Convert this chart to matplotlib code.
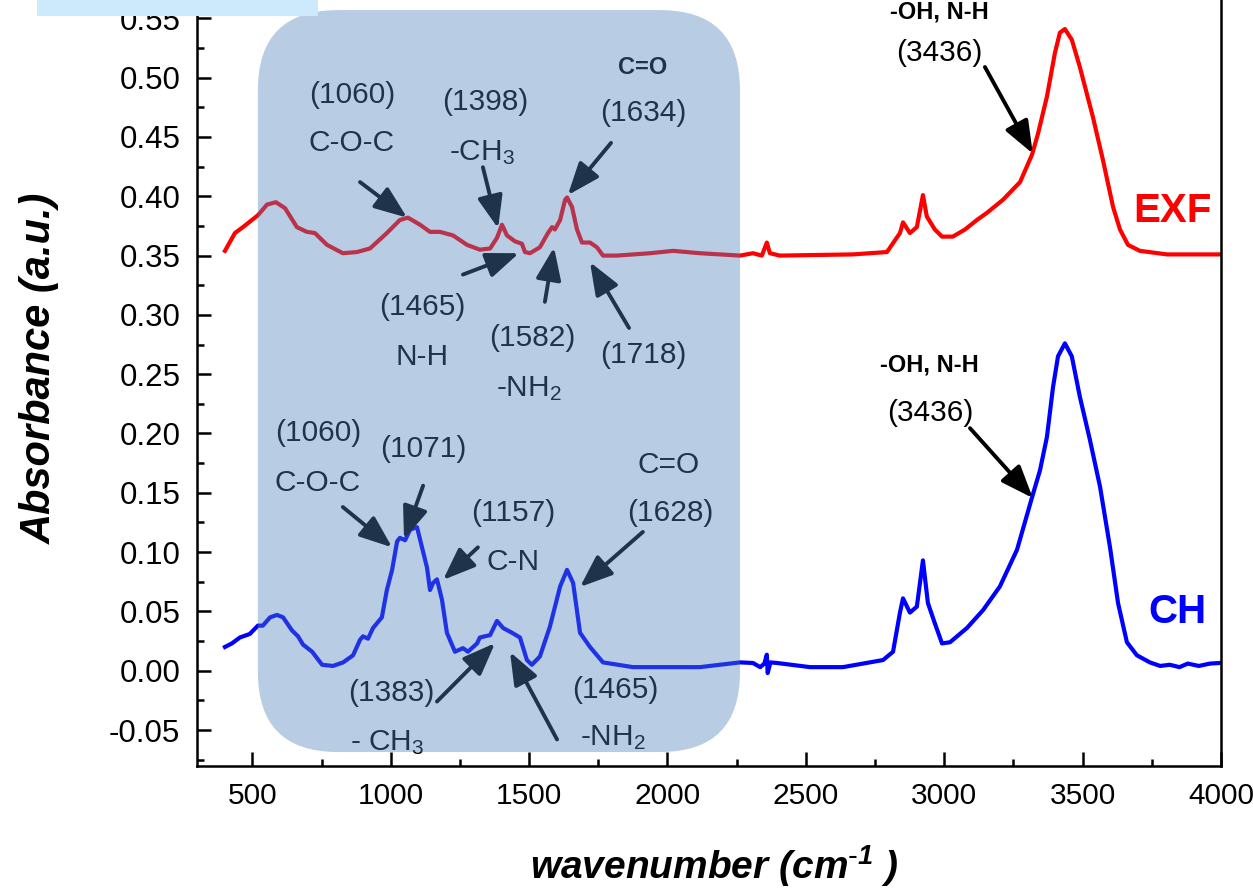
import matplotlib
matplotlib.use('Agg')
import matplotlib.pyplot as plt
from matplotlib.patches import FancyBboxPatch, Rectangle
from matplotlib.ticker import MultipleLocator

plt.rcParams['font.family'] = ['Liberation Sans', 'DejaVu Sans']
plt.rcParams['mathtext.default'] = 'regular'

# FTIR spectra (wavenumber in cm-1, absorbance in a.u.)
exf_wn = [401, 437, 466, 520, 553, 585, 618, 661, 697, 726, 770, 827, 878, 925,
          986, 1033, 1062, 1106, 1142, 1178, 1225, 1276, 1322, 1359, 1384, 1402,
          1420, 1449, 1474, 1485, 1503, 1539, 1568, 1583, 1593, 1612, 1630, 1637,
          1655, 1673, 1691, 1720, 1745, 1767, 1817, 1937, 2020, 2117, 2262, 2309,
          2341, 2359, 2370, 2406, 2670, 2793, 2840, 2851, 2876, 2901, 2923, 2937,
          2966, 2992, 3031, 3075, 3118, 3154, 3212, 3274, 3317, 3339, 3371, 3400,
          3418, 3436, 3461, 3490, 3537, 3573, 3610, 3635, 3664, 3707, 3805, 3996]
exf_abs = [0.354, 0.369, 0.374, 0.384, 0.393, 0.395, 0.390, 0.374, 0.370, 0.369,
           0.359, 0.352, 0.353, 0.356, 0.369, 0.380, 0.382, 0.376, 0.370, 0.370,
           0.367, 0.359, 0.355, 0.356, 0.365, 0.376, 0.367, 0.362, 0.360, 0.353,
           0.352, 0.357, 0.369, 0.374, 0.372, 0.380, 0.397, 0.399, 0.391, 0.372,
           0.361, 0.361, 0.357, 0.350, 0.350, 0.352, 0.354, 0.352, 0.350, 0.352,
           0.350, 0.361, 0.352, 0.350, 0.351, 0.353, 0.369, 0.378, 0.369, 0.374,
           0.401, 0.383, 0.372, 0.366, 0.366, 0.372, 0.380, 0.386, 0.397, 0.412,
           0.435, 0.453, 0.484, 0.521, 0.538, 0.541, 0.532, 0.509, 0.467, 0.431,
           0.391, 0.372, 0.359, 0.354, 0.351, 0.351]

ch_wn = [401, 426, 455, 491, 520, 538, 564, 589, 611, 643, 665, 683, 716, 752,
         791, 828, 864, 889, 900, 918, 936, 968, 986, 1005, 1023, 1033, 1052, 1070,
         1095, 1113, 1131, 1142, 1153, 1167, 1185, 1203, 1232, 1261, 1279, 1312,
         1322, 1359, 1384, 1406, 1438, 1467, 1492, 1510, 1539, 1575, 1612, 1637,
         1659, 1684, 1720, 1767, 1875, 1998, 2117, 2262, 2309, 2335, 2350, 2359,
         2362, 2372, 2396, 2515, 2634, 2779, 2815, 2840, 2851, 2876, 2901, 2923,
         2941, 2966, 2992, 3021, 3082, 3140, 3201, 3263, 3317, 3346, 3371, 3393,
         3411, 3436, 3461, 3490, 3526, 3563, 3599, 3628, 3660, 3696, 3743, 3780,
         3815, 3850, 3880, 3920, 3960, 3996]
ch_abs = [0.020, 0.023, 0.028, 0.031, 0.038, 0.038, 0.045, 0.047, 0.045, 0.034,
          0.029, 0.022, 0.016, 0.005, 0.004, 0.007, 0.013, 0.026, 0.029, 0.027,
          0.036, 0.045, 0.068, 0.085, 0.109, 0.112, 0.110, 0.119, 0.121, 0.104,
          0.087, 0.068, 0.074, 0.077, 0.060, 0.032, 0.016, 0.019, 0.016, 0.023,
          0.028, 0.030, 0.042, 0.036, 0.032, 0.028, 0.009, 0.005, 0.012, 0.037,
          0.071, 0.085, 0.074, 0.032, 0.020, 0.007, 0.003, 0.003, 0.003, 0.007,
          0.0065, 0.003, 0.006, 0.0135, -0.002, 0.007, 0.0065, 0.003, 0.003, 0.009,
          0.016, 0.049, 0.061, 0.049, 0.054, 0.093, 0.057, 0.040, 0.023, 0.024,
          0.036, 0.051, 0.071, 0.102, 0.146, 0.169, 0.197, 0.239, 0.265, 0.276,
          0.265, 0.231, 0.195, 0.155, 0.104, 0.057, 0.024, 0.013, 0.007, 0.004,
          0.005, 0.003, 0.006, 0.004, 0.006, 0.0065]

# peak arrows: (tail, head) in data coordinates
arrows = [
    ((889, 0.412), (1059, 0.382)),
    ((1333, 0.4245), (1388, 0.373)),
    ((1796, 0.445), (1640, 0.401)),
    ((1261, 0.334), (1463, 0.352)),
    ((1557, 0.311), (1590, 0.357)),
    ((1861, 0.289), (1720, 0.3445)),
    ((3147, 0.509), (3320, 0.436)),
    ((827, 0.138), (1005, 0.104)),
    ((1117, 0.156), (1048, 0.111)),
    ((1315, 0.104), (1189, 0.0765)),
    ((1911, 0.117), (1684, 0.0706)),
    ((1167, -0.026), (1377, 0.0233)),
    ((1601, -0.058), (1431, 0.0158)),
    ((3093, 0.2045), (3320, 0.1456)),
]

# peak labels: (x, y, text, bold)
labels = [
    (860, 0.4853, '(1060)', False),
    (860, 0.4447, 'C-O-C', False),
    (1341, 0.4795, '(1398)', False),
    (1330, 0.4372, '-CH$_3$', False),
    (1911, 0.5088, 'C=O', True),
    (1911, 0.470, '(1634)', False),
    (1113, 0.3065, '(1465)', False),
    (1113, 0.2644, 'N-H', False),
    (1510, 0.2804, '(1582)', False),
    (1500, 0.238, '-NH$_2$', False),
    (1911, 0.266, '(1718)', False),
    (2981, 0.555, '-OH, N-H', True),
    (2981, 0.5206, '(3436)', False),
    (737, 0.2004, '(1060)', False),
    (737, 0.158, 'C-O-C', False),
    (1117, 0.187, '(1071)', False),
    (1442, 0.133, '(1157)', False),
    (1442, 0.0917, 'C-N', False),
    (2005, 0.1735, 'C=O', False),
    (2009, 0.133, '(1628)', False),
    (1001, -0.0188, '(1383)', False),
    (987, -0.061, '- CH$_3$', False),
    (1810, -0.0163, '(1465)', False),
    (1803, -0.0567, '-NH$_2$', False),
    (2948, 0.2577, '-OH, N-H', True),
    (2948, 0.2172, '(3436)', False),
]

fig = plt.figure(figsize=(12.53, 8.90), dpi=100)
ax = fig.add_axes([197 / 1253, 124.3 / 890, 1024 / 1253, 765.7 / 890])

ax.plot(exf_wn, exf_abs, color='#ff0000', lw=3, zorder=2)
ax.plot(ch_wn, ch_abs, color='#0000ff', lw=3, zorder=2)

for tail, head in arrows:
    ax.annotate('', xy=head, xytext=tail,
                arrowprops=dict(arrowstyle='-|>,head_length=0.9,head_width=0.35',
                                mutation_scale=22, color='black', lw=2.8,
                                shrinkA=0, shrinkB=0), zorder=3)

for x, y, s, bold in labels:
    ax.text(x, y, s, ha='center', va='center', color='black',
            fontsize=17 if bold else 21.5, fontweight='bold' if bold else 'normal',
            zorder=3, clip_on=False)

ax.text(3826, 0.3876, 'EXF', color='#ff0000', fontsize=29, fontweight='bold',
        ha='center', va='center')
ax.text(3844, 0.0495, 'CH', color='#0000ff', fontsize=29, fontweight='bold',
        ha='center', va='center')

# translucent rounded highlight over the fingerprint region
box = FancyBboxPatch((520, -0.0686), 1742, 0.6256,
                     boxstyle='round,pad=0,rounding_size=289',
                     mutation_aspect=2.335e-4, facecolor='#4F81BD',
                     edgecolor='none', alpha=0.4, zorder=5)
ax.add_patch(box)

ax.set_xlim(300, 4000)
ax.set_ylim(-0.0801, 0.5655)
ax.xaxis.set_major_locator(MultipleLocator(500))
ax.xaxis.set_minor_locator(MultipleLocator(250))
ax.yaxis.set_major_locator(MultipleLocator(0.05))
ax.yaxis.set_minor_locator(MultipleLocator(0.025))
ax.yaxis.set_major_formatter(plt.FuncFormatter(lambda v, p: f'{v:.2f}'))
ax.xaxis.set_major_formatter(plt.FuncFormatter(lambda v, p: f'{v:.0f}'))

ax.tick_params(axis='both', which='both', direction='in', top=False, right=False,
               width=1.8)
ax.tick_params(which='major', length=10)
ax.tick_params(which='minor', length=5)
ax.tick_params(axis='y', pad=12, labelsize=22.5)
ax.tick_params(axis='x', pad=12, labelsize=21.5)

ax.spines['top'].set_visible(False)
for side in ['left', 'bottom', 'right']:
    ax.spines[side].set_linewidth(1.8)

fig.text(40 / 1253, 1 - 368 / 890, 'Absorbance (a.u.)', rotation=90,
         ha='center', va='center', fontsize=30, fontweight='bold', style='italic')
fig.text(714 / 1253, 1 - 866 / 890, r'wavenumber (cm$^{\text{-}1}$ )', ha='center',
         va='center', fontsize=28, fontweight='bold', style='italic')

# pale selection strip along the top edge
fig.patches.append(Rectangle((37 / 1253, 1 - 16 / 890), 281 / 1253, 16 / 890,
                             transform=fig.transFigure, facecolor='#cde9fc',
                             edgecolor='none', zorder=10))

fig.savefig('out.png', dpi=100)
